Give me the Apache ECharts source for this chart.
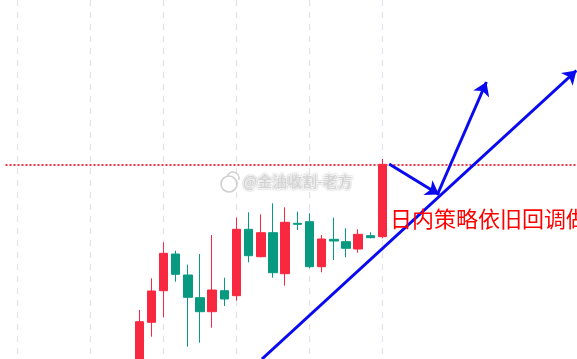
<!DOCTYPE html>
<html>
<head>
<meta charset="utf-8">
<script src="https://cdn.jsdelivr.net/npm/echarts@6/dist/echarts.min.js"></script>
<style>
html,body{margin:0;padding:0;background:#fff;}
#chart{width:577px;height:359px;}
</style>
</head>
<body>
<div id="chart"></div>
<script>
// ---- data (price scale is relative) ----
const categories = Array.from({length: 48}, (_, i) => String(i + 1));
const firstCandle = 11;
const opens  = [25, 77.7, 109.3, 146, 125, 102.3, 88.3, 109.3, 104.3, 170.7, 143.3, 167.3, 126.3, 176.7, 178.3, 133.3, 160.7, 158.3, 151, 164.3, 163.3];
const closes = [78.3, 109, 146.7, 125.7, 102.7, 88.3, 110, 101, 170.7, 144.3, 167.3, 127.3, 177.7, 175.7, 133.3, 161, 159, 151.7, 165.7, 162.3, 235.7];
const lows   = [18, 63.3, 82.7, 118.3, 53.3, 57.3, 72.3, 94, 99.3, 137.7, 142.7, 122.3, 114.3, 170, 131.7, 127.7, 140, 142.7, 147.3, 161.7, 161.7];
const highs  = [90, 121.7, 157.7, 149.3, 135.3, 146, 165, 122.3, 182.3, 187.7, 185.7, 196.7, 192.7, 188.3, 186.7, 165, 182.3, 171.7, 170.7, 167.7, 241];
// hand-drawn arrows: [fromIndex, fromPrice], [toIndex, toPrice]
const arrowStarts = [[21.09, 41], [31.55, 236], [35.54, 206]];
const arrowEnds   = [[46.95, 329.5], [35.65, 205.5], [39.55, 318]];
const noteText = '日内策略依旧回调做多';
const watermark = '@金油收割-老方';

const RED = '#f7283f', TEAL = '#089981';
const candleData = categories.map((c, i) => {
  const k = i - firstCandle;
  return (k >= 0 && k < opens.length) ? [opens[k], closes[k], lows[k], highs[k]] : '-';
});
const lastClose = closes[closes.length - 1];
const lastIdx = firstCandle + opens.length - 1;

const chart = echarts.init(document.getElementById('chart'), null, {renderer: 'canvas'});
chart.setOption({
  animation: false,
  backgroundColor: '#ffffff',
  grid: {left: 5.5, top: 0, width: 12.21 * 47, height: 359, containLabel: false},
  xAxis: [{
    type: 'category', data: categories, boundaryGap: false,
    axisLine: {show: false}, axisTick: {show: false}, axisLabel: {show: false},
    splitLine: {
      show: true,
      interval: (idx) => idx <= lastIdx && (idx - 1) % 6 === 0,
      lineStyle: {color: '#e0e3eb', width: 1.2, type: [6, 6]}
    }
  }, {
    type: 'value', min: 0, max: categories.length - 1, show: false, splitLine: {show: false}
  }],
  yAxis: {type: 'value', min: 41, max: 400, show: false, splitLine: {show: false}},
  series: [{
    type: 'candlestick',
    data: candleData,
    barWidth: 9,
    itemStyle: {color: RED, color0: TEAL, borderColor: RED, borderColor0: TEAL, borderWidth: 1},
    markLine: {
      silent: true, symbol: ['none', 'none'],
      label: {show: false},
      lineStyle: {color: '#f23645', width: 2, type: [2, 2]},
      data: [{yAxis: lastClose}]
    }
  }, {
    type: 'lines',
    coordinateSystem: 'cartesian2d',
    xAxisIndex: 1, yAxisIndex: 0,
    symbol: ['none', 'arrow'],
    symbolSize: 13,
    lineStyle: {color: '#0a0af0', width: 3, opacity: 1},
    data: arrowStarts.map((s, i) => ({coords: [s, arrowEnds[i]]})),
    z: 5
  }],
  graphic: [{
    type: 'text', x: 390, y: 219, z: 10,
    style: {text: noteText, fill: '#ff0000', font: '22px "Noto Sans CJK SC"', verticalAlign: 'middle'}
  }, {
    type: 'text', x: 243, y: 181, z: 10,
    style: {text: watermark, fill: '#d4d4d4', font: '15px "Noto Sans CJK SC"', verticalAlign: 'middle',
            stroke: '#ffffff', lineWidth: 2, textShadowColor: 'rgba(0,0,0,0.25)', textShadowBlur: 2}
  }, {
    type: 'circle', shape: {cx: 229, cy: 184, r: 8}, z: 10,
    style: {fill: 'none', stroke: '#cfcfcf', lineWidth: 1.6}
  }, {
    type: 'arc', shape: {cx: 233, cy: 178, r: 6, startAngle: -Math.PI * 0.9, endAngle: Math.PI * 0.1}, z: 10,
    style: {fill: 'none', stroke: '#cfcfcf', lineWidth: 1.4}
  }]
});
</script>
</body>
</html>
